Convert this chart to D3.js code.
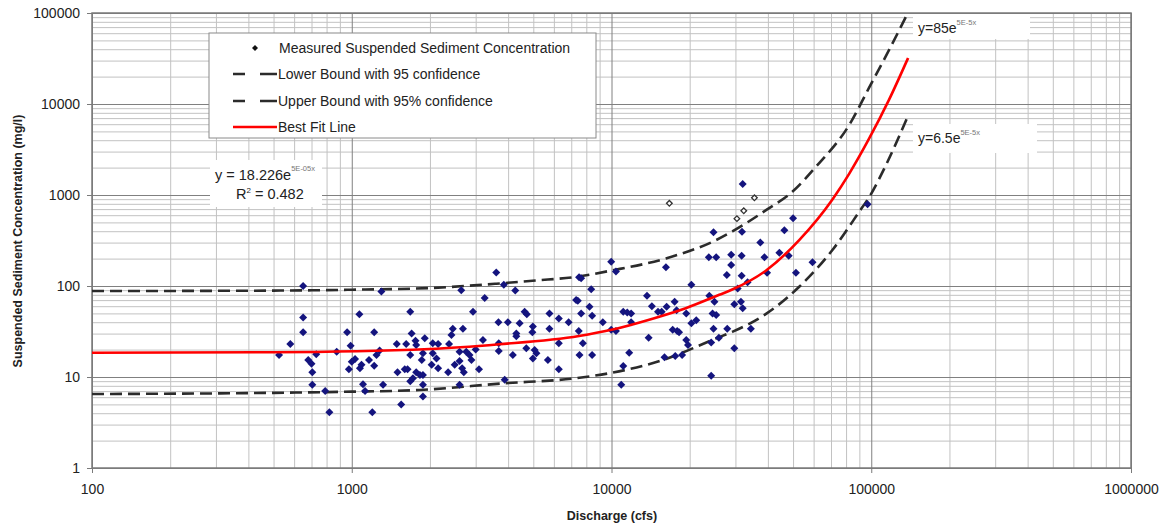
<!DOCTYPE html>
<html lang="en">
<head>
<meta charset="UTF-8"/>
<title>Suspended Sediment Concentration vs Discharge</title>
<script src="https://d3js.org/d3.v7.min.js"></script>
<style>
  body { margin: 0; background: #fff; }
  svg text { font-family: "Liberation Sans", Arial, sans-serif; fill: #222; }
</style>
</head>
<body>
<svg id="chart" width="1168" height="524"></svg>
<script>
// measured points [discharge cfs, concentration mg/l]
const measured = [
  [650,100],[1300,87],[650,45],[650,31],[580,23],[525,17.5],[680,15.4],[700,14],[705,11.3],[705,8.2],
  [730,17.8],[790,7.0],[820,4.1],[875,19],[960,31],[990,22],[1070,49],[1030,15.8],[1000,14.7],[975,12.2],
  [1075,12.5],[1090,13.6],[1165,15.4],[1220,31],[1220,13.3],[1245,17.5],[1280,19.5],[1105,8.3],[1125,7.0],[1320,8.2],
  [1200,4.1],[1490,23],[1620,23],[1680,52],[1700,30],[1760,25],[1770,22.5],[1680,17.5],[1860,15.4],[1500,11.3],
  [1600,12.2],[1640,12.2],[1770,11.3],[1830,10.5],[1720,9.7],[1680,9.0],[1550,5.0],
  [3600,141],[3850,103],[4260,89],[2640,90],[3250,74],[2930,52],[3670,40],[3990,40],[4430,39],[4630,52],
  [4720,49],[5770,50],[6270,44],[6840,40],[7310,70],[4980,36],[4960,31],[5770,34],[4300,30],[4300,28],
  [2450,34],[2680,34],[2420,29],[1910,26.6],[2050,23.5],[2150,23],[2370,23],[3200,25.5],[3680,23.5],[3680,19.3],
  [4170,17.5],[4700,20.7],[5060,19.8],[5140,18.2],[4980,16],[6270,23.5],[5690,15.4],[6270,12.2],[2600,19],[2760,19],
  [2840,17.5],[1880,18.2],[2050,18.2],[2120,16],[2030,13.6],[2150,12.5],[2350,11.3],[2490,13.6],[2600,15],[2660,12.5],
  [2700,11.3],[2890,15.4],[3090,12.2],[3000,20],[1880,10.5],[1880,8.2],[1880,6.1],[2600,8.2],[3880,9.3],
  [9970,185],[10400,144],[16200,161],[23700,207],[25300,207],[7640,122],[7500,125],[8350,92],[7420,69],[8230,59],
  [7640,50],[8420,47],[9260,40],[11100,52],[11500,51],[11900,50],[11900,40],[13700,78],[14300,60],[15100,52],
  [15600,52],[16300,59],[17500,67],[17800,54],[19400,50],[20300,103],[23800,78],[24900,67],[20300,39],[21200,42],
  [24500,50],[25300,48],[7480,32],[7760,23.5],[7530,17.5],[8420,17.5],[9970,33],[10400,32],[13900,27],[11700,18.5],
  [11100,13.2],[10900,8.2],[16000,16.5],[17200,33],[17900,32],[18200,31],[19400,25.5],[19700,22.5],[17600,17],[18700,17.5],
  [24200,24],[24700,34],[24200,10.3],
  [32000,1320],[24700,390],[31800,395],[50000,555],[46300,410],[37400,300],[28900,220],[31700,215],[38800,207],[44300,232],
  [48100,215],[59400,182],[28900,170],[27800,132],[31700,130],[39700,140],[51300,140],[33400,110],[30600,94],[29700,63],
  [31500,67],[32000,57],[27900,34],[34400,34],[25900,27],[29700,20.7],[96800,790]
];
// points drawn hollow in the original
const outliers = [[16700,810],[30400,550],[32300,670],[35500,930]];

const bestFit = [[100,18.5],[500,18.7],[2000,20.3],[3700,22.9],[7500,28.2],[10000,33],[14500,44],[19300,57],
  [26000,80],[29300,92],[39600,150],[52800,320],[71000,900],[82300,1720],[98200,4180],[117000,11100],[138600,32000]];
const upperBound = [[100,88],[500,89],[1000,91],[2000,95],[3600,106],[5100,115],[7300,126],[10000,148],[16200,201],
  [25300,320],[29300,400],[39600,690],[49800,1090],[61300,2050],[82300,5900],[98000,15000],[117000,39000],[141000,112000]];
const lowerBound = [[100,6.5],[500,6.7],[1000,6.9],[1830,7.2],[3800,8.5],[7300,9.7],[9800,11],[15800,15.4],[25300,26.6],
  [29300,31.5],[39600,50],[52800,98],[71000,250],[89900,655],[98200,950],[114000,2140],[139000,7600]];

const xTicks = [100, 1000, 10000, 100000, 1000000];
const yTicks = [1, 10, 100, 1000, 10000, 100000];
const legendLabels = ['Measured Suspended Sediment Concentration', 'Lower Bound with 95 confidence',
  'Upper Bound with 95% confidence', 'Best Fit Line'];

const svg = d3.select('#chart');
const pLeft = 92, pRight = 1131, pTop = 13, pBottom = 468;

const x = d3.scaleLog().domain([100, 1e6]).range([pLeft, pRight]);
const y = d3.scaleLog().domain([1, 1e5]).range([pBottom, pTop]);

// minor grid at 2..9 of every decade
const minorX = [], minorY = [];
xTicks.slice(0, -1).forEach(t => { for (let k = 2; k < 10; k++) minorX.push(t * k); });
yTicks.slice(0, -1).forEach(t => { for (let k = 2; k < 10; k++) minorY.push(t * k); });

function grid(g, axis, color) {
  g.call(axis).call(a => a.select('.domain').remove());
  g.selectAll('line').attr('stroke', color).attr('stroke-width', 1);
}

svg.append('g').attr('transform', `translate(0,${pBottom})`)
  .call(g => grid(g, d3.axisBottom(x).tickValues(minorX).tickSize(-(pBottom - pTop)).tickFormat(''), '#c2c2c2'));
svg.append('g').attr('transform', `translate(${pLeft},0)`)
  .call(g => grid(g, d3.axisLeft(y).tickValues(minorY).tickSize(-(pRight - pLeft)).tickFormat(''), '#c2c2c2'));
svg.append('g').attr('transform', `translate(0,${pBottom})`)
  .call(g => grid(g, d3.axisBottom(x).tickValues(xTicks).tickSize(-(pBottom - pTop)).tickFormat(''), '#808080'));
svg.append('g').attr('transform', `translate(${pLeft},0)`)
  .call(g => grid(g, d3.axisLeft(y).tickValues(yTicks).tickSize(-(pRight - pLeft)).tickFormat(''), '#808080'));

// white boxes behind the equation labels
[[210, 160, 112, 47], [913, 14, 117, 25], [913, 124, 124, 29]].forEach(b => {
  svg.append('rect').attr('x', b[0]).attr('y', b[1]).attr('width', b[2]).attr('height', b[3]).attr('fill', '#fff');
});

// frame
svg.append('rect')
  .attr('x', pLeft).attr('y', pTop).attr('width', pRight - pLeft).attr('height', pBottom - pTop)
  .attr('fill', 'none').attr('stroke', '#7a7a7a').attr('stroke-width', 1.5);

// axes with labels
const yAxis = svg.append('g').attr('transform', `translate(${pLeft},0)`)
  .call(d3.axisLeft(y).tickValues(yTicks).tickFormat(d3.format('d')).tickSize(5).tickPadding(7));
const xAxis = svg.append('g').attr('transform', `translate(0,${pBottom})`)
  .call(d3.axisBottom(x).tickValues(xTicks).tickFormat(d3.format('d')).tickSize(5).tickPadding(11));
[yAxis, xAxis].forEach(a => {
  a.select('.domain').remove();
  a.selectAll('line').attr('stroke', '#7a7a7a');
  a.selectAll('text').attr('font-size', 14).attr('font-family', '"Liberation Sans", Arial, sans-serif').attr('fill', '#222');
});

svg.append('defs').append('clipPath').attr('id', 'plot')
  .append('rect').attr('x', pLeft).attr('y', pTop).attr('width', pRight - pLeft).attr('height', pBottom - pTop);
const plot = svg.append('g').attr('clip-path', 'url(#plot)');

const line = d3.line().x(d => x(d[0])).y(d => y(d[1])).curve(d3.curveMonotoneX);

plot.append('path').datum(lowerBound).attr('d', line)
  .attr('fill', 'none').attr('stroke', '#2b2b2b').attr('stroke-width', 2.6).attr('stroke-dasharray', '12,6');
plot.append('path').datum(upperBound).attr('d', line)
  .attr('fill', 'none').attr('stroke', '#2b2b2b').attr('stroke-width', 2.6).attr('stroke-dasharray', '12,6');

const diamond = d3.symbol(d3.symbolSquare, 32);
plot.selectAll('.pt').data(measured).enter().append('path')
  .attr('class', 'pt')
  .attr('d', diamond)
  .attr('transform', d => `translate(${x(d[0])},${y(d[1])}) rotate(45)`)
  .attr('fill', '#14147e');
plot.selectAll('.open').data(outliers).enter().append('path')
  .attr('class', 'open')
  .attr('d', d3.symbol(d3.symbolSquare, 16))
  .attr('transform', d => `translate(${x(d[0])},${y(d[1])}) rotate(45)`)
  .attr('fill', '#fff').attr('stroke', '#333').attr('stroke-width', 1.3);

plot.append('path').datum(bestFit).attr('d', line)
  .attr('fill', 'none').attr('stroke', '#ff0000').attr('stroke-width', 2.6);

// equation labels
const eq1 = svg.append('text').attr('x', 215).attr('y', 180).attr('font-size', 14.5);
eq1.append('tspan').text('y = 18.226e');
eq1.append('tspan').attr('dy', -9).attr('font-size', 7.5).attr('fill', '#777').text('5E-05x');
const r2 = svg.append('text').attr('x', 236).attr('y', 199).attr('font-size', 14.5);
r2.append('tspan').text('R');
r2.append('tspan').attr('dy', -6).attr('font-size', 8).text('2');
r2.append('tspan').attr('dy', 6).text(' = 0.482');

const eq2 = svg.append('text').attr('x', 918).attr('y', 33).attr('font-size', 14);
eq2.append('tspan').text('y=85e');
eq2.append('tspan').attr('dy', -8).attr('font-size', 7.5).attr('fill', '#777').text('5E-5x');
const eq3 = svg.append('text').attr('x', 918).attr('y', 143).attr('font-size', 14);
eq3.append('tspan').text('y=6.5e');
eq3.append('tspan').attr('dy', -8).attr('font-size', 7.5).attr('fill', '#777').text('5E-5x');

// axis titles
svg.append('text').attr('x', 612).attr('y', 520).attr('text-anchor', 'middle')
  .attr('font-size', 12.5).attr('font-weight', 'bold').text('Discharge (cfs)');
svg.append('text').attr('transform', 'translate(22,241) rotate(-90)').attr('text-anchor', 'middle')
  .attr('font-size', 12.5).attr('font-weight', 'bold').text('Suspended Sediment Concentration (mg/l)');

// legend
const legend = svg.append('g');
legend.append('rect').attr('x', 209).attr('y', 33).attr('width', 387).attr('height', 105)
  .attr('fill', '#fff').attr('stroke', '#8a8a8a').attr('stroke-width', 1);
const rowY = [48, 74, 101, 127];
legend.append('path').attr('d', d3.symbol(d3.symbolSquare, 18))
  .attr('transform', `translate(255,${rowY[0]}) rotate(45)`).attr('fill', '#111');
[1, 2].forEach(i => {
  legend.append('line').attr('x1', 233).attr('x2', 277).attr('y1', rowY[i]).attr('y2', rowY[i])
    .attr('stroke', '#2b2b2b').attr('stroke-width', 2.6).attr('stroke-dasharray', '12,15,17');
});
legend.append('line').attr('x1', 233).attr('x2', 277).attr('y1', rowY[3]).attr('y2', rowY[3])
  .attr('stroke', '#ff0000').attr('stroke-width', 2.6);
legendLabels.forEach((t, i) => {
  legend.append('text').attr('x', i === 0 ? 279 : 278).attr('y', rowY[i] + 5)
    .attr('font-size', 14).text(t);
});
</script>
</body>
</html>
